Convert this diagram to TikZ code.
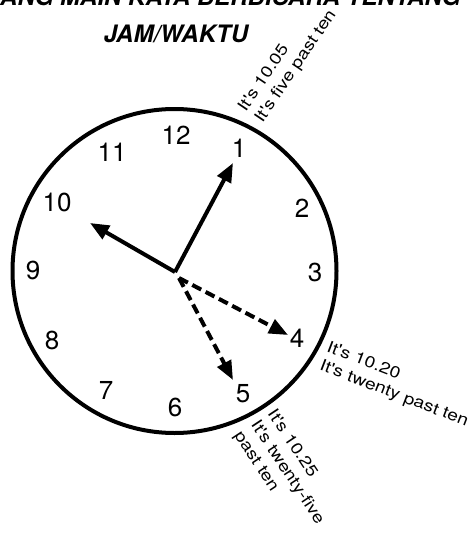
\documentclass[tikz,border=0pt]{standalone}
\usepackage{fontspec}
\setmainfont{TeX Gyre Heros}
\newfontfamily\notefont[FakeStretch=1.2]{TeX Gyre Heros}
\usetikzlibrary{arrows.meta}

\begin{document}
\begin{tikzpicture}[x=1pt, y=-1pt,
  numeral/.style={inner sep=0pt, font=\fontsize{26}{26}\selectfont},
  hand/.style={line width=4pt, line join=miter,
               -{Triangle[length=19pt, width=15pt]}},
  dashhand/.style={hand, dash pattern=on 10pt off 5pt},
  note/.style={inner sep=0pt, align=left, anchor=north west,
               font=\notefont\fontsize{16}{20}\selectfont}
]
\useasboundingbox (0,0) rectangle (473,535);
\clip (0,0) rectangle (473,535);

% Headings
\node[anchor=base west, inner sep=0pt,
      font=\fontsize{24}{24}\selectfont\bfseries\itshape] (topline) at (0,6)
      {ANG MAIN KATA BERBICARA TENTANG};
\node[inner sep=0pt, font=\fontsize{24}{24}\selectfont\bfseries\itshape]
      (title) at (176,34) {JAM/WAKTU};

% Dial
\node[draw, circle, line width=4pt, minimum size=324pt, inner sep=0pt]
      (dial) at (174.5,271) {};

% Numerals
\node[numeral] (n12) at (176,135) {12};
\node[numeral] (n1)  at (239,148) {1};
\node[numeral] (n2)  at (302,208) {2};
\node[numeral] (n3)  at (315,272) {3};
\node[numeral] (n4)  at (297,338) {4};
\node[numeral] (n5)  at (243,394) {5};
\node[numeral] (n6)  at (175,407) {6};
\node[numeral] (n7)  at (106,390) {7};
\node[numeral] (n8)  at (52,340)  {8};
\node[numeral] (n9)  at (33,270)  {9};
\node[numeral] (n10) at (57,202)  {10};
\node[numeral] (n11) at (112,152) {11};

% Hands
\coordinate (pivot)  at (175,272);
\coordinate (pivotb) at (179,278);
\coordinate (tip10) at (90,223);
\coordinate (tip1)  at (233,163);
\coordinate (tip4)  at (288,335);
\coordinate (tip5)  at (233,380);
\draw[hand] (pivot) -- (tip10);
\draw[hand] (pivot) -- (tip1);
\draw[dashhand] (pivotb) -- (tip4);
\draw[dashhand] (pivotb) -- (tip5);

% Time labels
\node[note, rotate=56] (lbl05) at (236,106)
      {It's 10.05\\It's five past ten};
\node[note, rotate=-21] (lbl20) at (330,340)
      {It's 10.20\\It's twenty past ten};
\node[note, rotate=-56.5] (lbl25) at (277,407)
      {It's 10.25\\It's twenty-five\\past ten};
\end{tikzpicture}
\end{document}
